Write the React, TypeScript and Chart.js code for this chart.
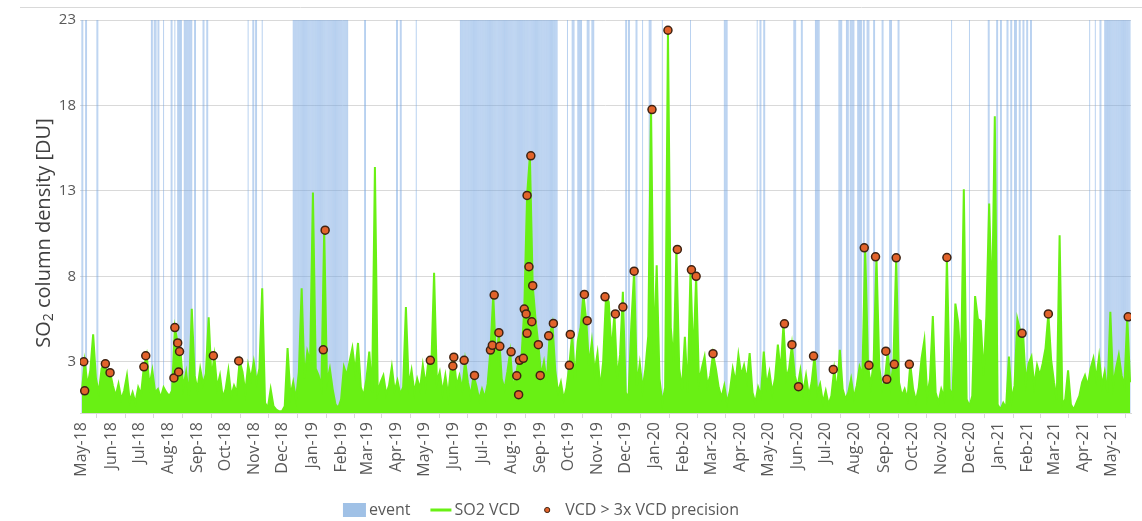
import React, { useEffect, useRef } from "react";
import { Chart, registerables } from "chart.js";

Chart.register(...registerables);

// ---------- data ----------
const MONTH_LABELS = [
  "May-18", "Jun-18", "Jul-18", "Aug-18", "Sep-18", "Oct-18", "Nov-18", "Dec-18",
  "Jan-19", "Feb-19", "Mar-19", "Apr-19", "May-19", "Jun-19", "Jul-19", "Aug-19",
  "Sep-19", "Oct-19", "Nov-19", "Dec-19", "Jan-20", "Feb-20", "Mar-20", "Apr-20",
  "May-20", "Jun-20", "Jul-20", "Aug-20", "Sep-20", "Oct-20", "Nov-20", "Dec-20",
  "Jan-21", "Feb-21", "Mar-21", "Apr-21", "May-21",
];

// SO2 VCD sampled every DAY_STEP days starting 1 May 2018
const DAY_STEP = 3;
const VCD_VALUES = [
  1.3, 3.0, 1.6, 2.5, 4.6, 2.0, 1.2, 2.6, 2.9, 2.3,
  2.4, 1.6, 1.0, 1.7, 0.8, 1.3, 2.2, 0.7, 1.2, 0.6,
  1.5, 1.1, 2.7, 3.4, 1.6, 2.5, 1.2, 1.4, 0.9, 1.5,
  1.2, 1.0, 1.3, 5.0, 4.1, 3.6, 1.5, 2.4, 1.0, 6.1,
  2.2, 1.4, 2.6, 1.7, 2.3, 5.6, 2.0, 3.35, 1.5, 2.2,
  0.9, 1.4, 2.5, 1.0, 1.6, 1.2, 3.05, 2.4, 1.2, 2.8,
  2.0, 3.0, 1.8, 2.6, 7.3, 0.6, 0.3, 1.4, 0.4, 0.2,
  0.1, 0.1, 0.4, 3.8, 1.0, 1.8, 0.8, 2.4, 7.3, 2.0,
  3.6, 3.0, 12.9, 2.6, 2.2, 1.5, 10.7, 1.8, 2.6, 1.4,
  0.5, 0.3, 0.8, 2.7, 2.2, 3.0, 3.8, 2.4, 4.1, 1.5,
  1.0, 2.0, 3.6, 1.2, 14.4, 1.2, 1.8, 2.2, 1.1, 1.6,
  2.7, 1.3, 1.9, 1.1, 1.5, 6.2, 1.6, 2.5, 1.2, 2.0,
  1.4, 2.8, 1.6, 3.08, 2.6, 8.2, 1.8, 2.4, 1.2, 2.2,
  1.0, 2.75, 3.27, 1.6, 2.2, 1.4, 3.08, 1.8, 1.0, 2.2,
  1.6, 0.8, 1.4, 0.9, 1.7, 3.68, 6.9, 3.0, 4.7, 2.0,
  1.4, 2.4, 3.58, 1.5, 2.18, 3.08, 3.2, 6.08, 12.73, 15.05,
  7.45, 5.5, 4.0, 2.2, 3.0, 1.8, 4.52, 5.24, 2.5, 1.2,
  1.8, 0.8, 1.5, 2.79, 4.6, 2.0, 4.2, 5.0, 6.94, 5.4,
  2.8, 4.2, 2.4, 3.5, 1.4, 3.0, 6.8, 6.5, 3.5, 5.8,
  2.0, 3.4, 7.1, 1.2, 0.9, 5.2, 8.3, 1.6, 2.9, 1.4,
  2.6, 4.5, 17.76, 3.5, 8.65, 2.0, 0.6, 1.5, 22.4, 5.0,
  3.0, 9.57, 2.6, 1.4, 4.46, 1.2, 8.38, 3.0, 8.0, 1.8,
  2.6, 3.3, 1.6, 2.2, 3.47, 2.6, 1.5, 0.9, 1.6, 0.6,
  1.3, 2.6, 1.8, 3.4, 2.2, 2.8, 1.9, 3.5, 1.2, 0.6,
  1.5, 1.0, 3.6, 1.6, 2.4, 1.2, 2.0, 4.0, 2.4, 5.22,
  2.0, 2.6, 4.0, 2.2, 1.54, 2.5, 1.2, 2.2, 1.0, 1.8,
  3.33, 1.2, 1.7, 0.6, 1.3, 0.5, 1.0, 2.55, 1.2, 3.7,
  1.4, 0.8, 1.2, 2.0, 0.9, 1.6, 2.7, 2.2, 9.67, 2.79,
  1.6, 3.0, 9.14, 2.7, 1.4, 1.97, 3.62, 1.6, 2.85, 9.08,
  1.8, 1.0, 1.4, 0.8, 2.85, 1.4, 0.7, 1.5, 3.2, 4.27,
  1.0, 2.0, 5.67, 1.2, 0.6, 1.4, 0.9, 9.1, 1.4, 1.0,
  6.4, 5.3, 2.5, 13.1, 0.8, 0.4, 1.0, 6.84, 5.5, 5.4,
  2.2, 5.7, 12.26, 6.0, 17.37, 0.5, 0.2, 0.6, 0.3, 3.3,
  0.8, 1.6, 5.5, 4.8, 4.66, 1.8, 2.9, 3.3, 1.6, 2.8,
  2.2, 2.9, 3.8, 5.8, 3.1, 1.8, 0.8, 10.4, 0.5, 0.8,
  2.5, 0.5, 0.2, 0.6, 1.0, 1.8, 2.2, 1.6, 2.6, 3.2,
  2.0, 3.3, 1.6, 2.4, 1.2, 5.93, 1.6, 2.6, 3.4, 2.2,
  1.6, 5.63, 1.8,
];

// VCD > 3x VCD precision (day offset from 1 May 2018, value)
const RED_DAYS = [
  2, 3, 25, 30, 66, 68, 98, 99, 102, 103, 104, 140, 167, 257, 259,
  371, 395, 396, 407, 418, 435, 437, 439, 444, 445, 457, 463, 465, 466, 470,
  471, 473, 474, 474, 476, 478, 479, 480, 486, 488, 497, 502, 519, 520, 535,
  538, 557, 568, 576, 588, 607, 624, 634, 649, 654, 672, 748, 756, 763, 779,
  800, 833, 838, 845, 856, 857, 865, 867, 881, 921, 1001, 1029, 1114,
];
const RED_VALUES = [
  3.0, 1.3, 2.88, 2.36, 2.7, 3.35, 2.05, 5.0, 4.1, 2.4, 3.6, 3.35, 3.05, 3.7, 10.7,
  3.08, 2.75, 3.27, 3.08, 2.2, 3.68, 3.96, 6.9, 4.7, 3.9, 3.58, 2.18, 1.07, 3.08, 3.2,
  6.08, 5.8, 12.73, 4.66, 8.56, 15.05, 5.34, 7.45, 4.0, 2.2, 4.52, 5.24, 2.79, 4.6, 6.94,
  5.4, 6.8, 5.8, 6.2, 8.3, 17.76, 22.4, 9.57, 8.38, 8.0, 3.47, 5.22, 4.0, 1.54, 3.33,
  2.55, 9.67, 2.79, 9.14, 3.62, 1.97, 2.85, 9.08, 2.85, 9.1, 4.66, 5.8, 5.63,
];

// event periods [first day, last day]
const EVENT_RANGES = [
  [0, 1], [4, 5], [16, 17], [74, 75], [77, 79], [81, 82], [87, 87], [95, 96], [99, 99],
  [102, 106], [109, 117], [120, 121], [129, 130], [133, 134], [177, 177], [182, 183],
  [185, 186], [192, 192], [225, 283], [301, 302], [335, 336], [339, 340], [356, 356],
  [403, 506], [517, 517], [522, 524], [528, 532], [538, 540], [543, 545], [579, 580],
  [582, 583], [590, 591], [597, 597], [604, 606], [618, 618], [648, 648], [684, 687],
  [719, 719], [722, 723], [726, 727], [758, 760], [766, 767], [781, 785], [806, 809],
  [814, 816], [818, 822], [826, 830], [832, 833], [836, 838], [843, 844], [852, 853],
  [860, 862], [869, 870], [926, 926], [945, 945], [965, 966], [974, 975], [978, 979],
  [985, 986], [989, 990], [993, 995], [998, 999], [1002, 1003], [1006, 1007],
  [1010, 1011], [1073, 1073], [1079, 1079], [1084, 1085], [1089, 1116],
];

const Y_TICKS = [3, 8, 13, 18, 23];
const Y_MAX = 23;
const X_MIN = -2;
const X_MAX = 1117;

// ---------- style ----------
const FONT = "'Open Sans', 'Noto Sans', 'DejaVu Sans', sans-serif";
const TEXT = "#595959";
const TITLE = "#404040";
const GRID = "#d9d9d9";
const GREEN = "rgb(105,240,20)";
const EVENT_FILL = "rgba(120,168,226,0.55)";
const EVENT_LEGEND = "rgb(160,193,230)";
const DOT_FILL = "#e2632b";
const DOT_EDGE = "#3f2312";

const START = Date.UTC(2018, 4, 1);
const MONTH_DAYS = MONTH_LABELS.map((_, i) =>
  Math.round((Date.UTC(2018, 4 + i, 1) - START) / 86400000)
);

const decorPlugin = {
  id: "decor",
  afterDraw(chart: any) {
    const ctx = chart.ctx as CanvasRenderingContext2D;
    // top frame line
    ctx.save();
    ctx.strokeStyle = GRID;
    ctx.lineWidth = 1;
    ctx.beginPath();
    ctx.moveTo(20, 7.5);
    ctx.lineTo(chart.width, 7.5);
    ctx.stroke();
    ctx.restore();

    // y axis title with subscript
    ctx.save();
    const big = `20px ${FONT}`;
    const small = `14px ${FONT}`;
    ctx.fillStyle = TITLE;
    ctx.textBaseline = "middle";
    ctx.textAlign = "left";
    ctx.font = big;
    const wSO = ctx.measureText("SO").width;
    const rest = " column density [DU]";
    const wRest = ctx.measureText(rest).width;
    ctx.font = small;
    const w2 = ctx.measureText("2").width;
    const total = wSO + w2 + wRest;
    ctx.translate(44, 233);
    ctx.rotate(-Math.PI / 2);
    let x = -total / 2;
    ctx.font = big;
    ctx.fillText("SO", x, 0);
    x += wSO;
    ctx.font = small;
    ctx.fillText("2", x, 5);
    x += w2;
    ctx.font = big;
    ctx.fillText(rest, x, 0);
    ctx.restore();

    // legend
    ctx.save();
    ctx.font = `16px ${FONT}`;
    ctx.textBaseline = "middle";
    ctx.textAlign = "left";
    const items = [
      { text: "event", mark: 23, gap: 3, kind: "box" },
      { text: "SO2 VCD", mark: 21, gap: 3, kind: "line" },
      { text: "VCD > 3x VCD precision", mark: 14, gap: 11, kind: "dot" },
    ];
    const ITEM_GAP = 20;
    const widths = items.map((it) => it.mark + it.gap + ctx.measureText(it.text).width);
    const totalW = widths.reduce((a, b) => a + b, 0) + ITEM_GAP * (items.length - 1);
    let lx = 541 - totalW / 2;
    const ly = 510;
    items.forEach((it, i) => {
      if (it.kind === "box") {
        ctx.fillStyle = EVENT_LEGEND;
        ctx.fillRect(lx, ly - 7, it.mark, 14);
      } else if (it.kind === "line") {
        ctx.strokeStyle = GREEN;
        ctx.lineWidth = 3;
        ctx.beginPath();
        ctx.moveTo(lx, ly);
        ctx.lineTo(lx + it.mark, ly);
        ctx.stroke();
      } else {
        ctx.beginPath();
        ctx.arc(lx + it.mark / 2, ly, 2.6, 0, Math.PI * 2);
        ctx.fillStyle = DOT_FILL;
        ctx.fill();
        ctx.lineWidth = 1;
        ctx.strokeStyle = DOT_EDGE;
        ctx.stroke();
      }
      ctx.fillStyle = TEXT;
      ctx.fillText(it.text, lx + it.mark + it.gap, ly);
      lx += widths[i] + ITEM_GAP;
    });
    ctx.restore();
  },
};

export default function App() {
  const ref = useRef<HTMLCanvasElement | null>(null);

  useEffect(() => {
    if (!ref.current) return;
    const eventPoints: { x: number; y: number }[] = [];
    EVENT_RANGES.forEach(([a, b]) => {
      for (let d = a; d <= b; d++) eventPoints.push({ x: d, y: Y_MAX });
    });
    const vcdPoints = VCD_VALUES.map((v, i) => ({ x: i * DAY_STEP, y: v }));
    const redPoints = RED_DAYS.map((d, i) => ({ x: d, y: RED_VALUES[i] }));

    const chart = new Chart(ref.current, {
      type: "bar",
      data: {
        datasets: [
          {
            type: "bar",
            label: "event",
            data: eventPoints,
            backgroundColor: EVENT_FILL,
            borderWidth: 0,
            barPercentage: 1,
            categoryPercentage: 1,
            inflateAmount: 0,
            order: 3,
          } as any,
          {
            type: "line",
            label: "SO2 VCD",
            data: vcdPoints,
            borderColor: GREEN,
            backgroundColor: GREEN,
            fill: "origin",
            borderWidth: 2,
            pointRadius: 0,
            tension: 0,
            order: 2,
          } as any,
          {
            type: "line",
            label: "VCD > 3x VCD precision",
            data: redPoints,
            showLine: false,
            pointRadius: 4,
            pointBorderWidth: 1.5,
            pointBackgroundColor: DOT_FILL,
            pointBorderColor: DOT_EDGE,
            order: 1,
          } as any,
        ],
      },
      options: {
        animation: false,
        responsive: false,
        devicePixelRatio: 1,
        events: [],
        layout: { padding: { top: 20, right: 11, left: 0, bottom: 0 } },
        plugins: {
          legend: { display: false },
          tooltip: { enabled: false },
        },
        scales: {
          x: {
            type: "linear",
            min: X_MIN,
            max: X_MAX,
            offset: false,
            afterBuildTicks: (scale: any) => {
              scale.ticks = MONTH_DAYS.map((v) => ({ value: v }));
            },
            afterFit: (scale: any) => {
              scale.height = 108;
            },
            grid: {
              drawOnChartArea: false,
              drawTicks: true,
              tickLength: 5,
              color: GRID,
            },
            border: { color: GRID },
            ticks: {
              autoSkip: false,
              maxRotation: 90,
              minRotation: 90,
              padding: 4,
              color: TEXT,
              font: { family: FONT, size: 16 },
              callback: (_v: any, i: number) => MONTH_LABELS[i],
            },
          },
          y: {
            min: 0,
            max: Y_MAX,
            afterBuildTicks: (scale: any) => {
              scale.ticks = Y_TICKS.map((v) => ({ value: v }));
            },
            afterFit: (scale: any) => {
              scale.width = 80;
            },
            grid: { color: GRID, drawTicks: false },
            border: { display: false },
            ticks: {
              padding: 4,
              color: TEXT,
              font: { family: FONT, size: 15 },
            },
          },
        },
      } as any,
      plugins: [decorPlugin],
    });
    return () => chart.destroy();
  }, []);

  return (
    <div style={{ position: "fixed", left: 0, top: 0, width: 1142, height: 521, background: "#fff" }}>
      <canvas ref={ref} width={1142} height={521} style={{ display: "block" }} />
    </div>
  );
}
